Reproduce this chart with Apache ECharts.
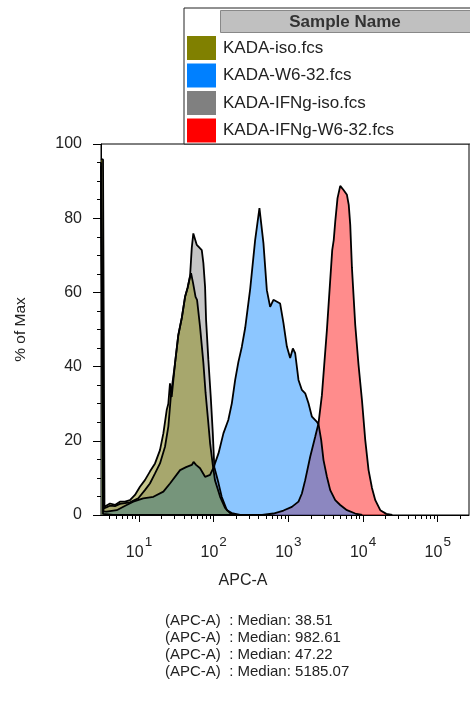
<!DOCTYPE html>
<html><head><meta charset="utf-8">
<script src="https://cdn.jsdelivr.net/npm/echarts@6/dist/echarts.min.js"></script>
<style>html,body{margin:0;padding:0;background:#fff}#c{width:470px;height:702px}</style>
</head><body><div id="c"></div>
<script>
// ---- data ----
const sampleNames = ['KADA-iso.fcs', 'KADA-W6-32.fcs', 'KADA-IFNg-iso.fcs', 'KADA-IFNg-W6-32.fcs'];
const sampleColors = ['#808000', '#0080ff', '#808080', '#ff0000'];
const medianLabel = '(APC-A)  : Median: ';
const medians = ['38.51', '982.61', '47.22', '5185.07'];
const xAxisTitle = 'APC-A';
const yAxisTitle = '% of Max';
const majorTickExponents = [1, 2, 3, 4, 5];
const minorTickValues = [4, 5, 6, 7, 8, 9, 20, 30, 40, 50, 60, 70, 80, 90,
  200, 300, 400, 500, 600, 700, 800, 900, 2000, 3000, 4000, 5000, 6000, 7000, 8000, 9000,
  20000, 30000, 40000, 50000, 60000, 70000, 80000, 90000, 200000];
const xMin = 3.1, xMax = 262144;

// KADA-iso.fcs
const isoX = [3.1, 3.3, 3.45, 4.09, 4.77, 5.56, 6.49, 7.57, 8.84, 10.3, 12.0, 14.0, 16.4, 19.1, 21.2, 23.5, 24.7, 26.0, 27.4, 30.4, 33.6, 37.4, 41.4, 44.7, 48.3, 49.8, 53.0, 57.2, 59.9, 65.7, 72.8, 77.9, 84.1, 89.5, 97.3, 104, 122, 142, 166, 200];
const isoY = [96, 95.8, 2.2, 3.1, 2.7, 3.6, 3.6, 4.0, 5.4, 7.6, 9.4, 11.7, 13.9, 17.5, 22.0, 28.3, 30.0, 35.5, 31.8, 41.0, 48.5, 53.1, 58.8, 61.2, 64.2, 65.2, 62.5, 58.8, 58.0, 50.7, 41.0, 32.9, 25.6, 19.4, 13.5, 9.4, 4.9, 1.9, 0.5, 0];
// KADA-W6-32.fcs
const w632X = [3.1, 3.25, 3.35, 3.69, 5.03, 6.84, 8.39, 11.4, 15.6, 21.2, 26.0, 35.5, 42.7, 50.9, 53.8, 58.1, 65.7, 76.7, 89.5, 99.1, 116, 135, 157, 175, 194, 214, 238, 264, 308, 359, 410, 464, 515, 570, 631, 776, 860, 955, 1057, 1149, 1234, 1366, 1517, 1680, 1860, 2066, 2411, 2532, 2752, 2955, 3282, 3634, 4240, 4948, 6085, 7861, 9757];
const w632Y = [95, 94.5, 1.0, 0.9, 1.3, 2.7, 3.6, 4.5, 4.9, 6.3, 8.5, 12.1, 12.9, 13.5, 14.3, 13.5, 12.6, 10.3, 10.8, 12.7, 16.6, 22.0, 25.6, 30.1, 36.4, 41.2, 45.3, 50.4, 60.9, 74.1, 82.7, 73.2, 60.6, 56.1, 58.0, 57.0, 51.7, 45.4, 42.3, 44.9, 43.6, 36.4, 33.7, 32.8, 30.1, 26.5, 25.1, 24.5, 20.2, 14.8, 10.3, 6.7, 4.0, 2.7, 1.3, 0.4, 0];
// KADA-IFNg-iso.fcs
const ifngIsoX = [3.1, 3.28, 3.4, 4.09, 4.77, 5.56, 6.49, 7.57, 8.31, 9.79, 12.0, 14.0, 16.4, 19.1, 22.3, 24.7, 26.9, 30.4, 33.6, 37.4, 41.4, 44.7, 48.3, 50.9, 53.4, 59.4, 69.3, 72.8, 76.7, 79.1, 84.9, 91.4, 97.3, 102, 116, 128, 150, 175, 226];
const ifngIsoY = [94, 93.5, 1.8, 2.5, 2.4, 3.0, 3.2, 3.4, 3.8, 4.5, 6.7, 8.5, 11.2, 13.9, 18.4, 23.8, 32.8, 40.9, 48.5, 53.1, 58.8, 61.2, 64.5, 72.0, 75.9, 72.8, 71.4, 67.9, 61.5, 52.6, 41.8, 31.8, 22.1, 12.9, 8.6, 4.9, 1.3, 0.5, 0];
// KADA-IFNg-W6-32.fcs
const ifngW632X = [3.1, 3.2, 3.3, 4.5, 445, 631, 860, 1114, 1366, 1517, 1680, 1960, 2287, 2532, 2812, 3019, 3282, 3634, 3865, 4049, 4240, 4552, 4948, 5056, 5479, 6085, 6433, 6738, 7100, 7861, 8704, 9667, 10703, 11851, 13162, 14579, 17007, 20463, 24633];
const ifngW632Y = [90, 89.5, 0.3, 0, 0, 0.4, 1.2, 2.2, 3.6, 5.8, 9.4, 15.7, 21.1, 24.7, 32.3, 40.4, 49.9, 63.3, 71.4, 74.1, 79.0, 85.4, 88.7, 89.2, 87.6, 86.3, 83.6, 78.2, 66.6, 51.2, 40.4, 31.0, 20.2, 12.1, 7.3, 4.0, 1.3, 0.3, 0];

// ---- build ----
const FONT = 'Liberation Sans, Arial, sans-serif';
const seriesXs = [isoX, w632X, ifngIsoX, ifngW632X];
const seriesYs = [isoY, w632Y, ifngIsoY, ifngW632Y];
const drawOrder = [3, 2, 1, 0]; // bottom -> top

const series = drawOrder.map(i => ({
  type: 'line',
  name: sampleNames[i],
  xAxisIndex: 0,
  data: seriesXs[i].map((v, k) => [Math.log10(v), seriesYs[i][k]]),
  showSymbol: false,
  symbol: 'none',
  smooth: false,
  lineStyle: { color: '#000', width: 1.8 },
  areaStyle: { color: sampleColors[i], opacity: 0.45, origin: 'start' },
  emphasis: { disabled: true },
  silent: true
}));

const legendX = 184, legendY = 8, rowH = 27.5;
const graphic = [
  { type: 'rect', z: 100, shape: { x: legendX, y: legendY, width: 300, height: 136 },
    style: { fill: '#fff', stroke: '#222', lineWidth: 1 } },
  { type: 'rect', z: 101, shape: { x: 220.5, y: 10.5, width: 260, height: 22 },
    style: { fill: '#c0c0c0', stroke: '#888', lineWidth: 1 } },
  { type: 'text', z: 102, x: 345, y: 22,
    style: { text: 'Sample Name', font: 'bold 17px ' + FONT, fill: '#333', align: 'center', verticalAlign: 'middle' } }
];
sampleNames.forEach((n, i) => {
  graphic.push({ type: 'rect', z: 101, shape: { x: 187, y: 36 + i * rowH, width: 29, height: 24 },
    style: { fill: sampleColors[i] } });
  graphic.push({ type: 'text', z: 102, x: 223, y: 48 + i * rowH,
    style: { text: n, font: '17px ' + FONT, fill: '#222', align: 'left', verticalAlign: 'middle' } });
});
medians.forEach((m, i) => {
  graphic.push({ type: 'text', z: 102, x: 165, y: 620.5 + i * 17,
    style: { text: medianLabel + m, font: '15px ' + FONT, fill: '#222', align: 'left', verticalAlign: 'middle' } });
});
graphic.push({ type: 'text', z: 102, x: 243, y: 581,
  style: { text: xAxisTitle, font: '16px ' + FONT, fill: '#222', align: 'center', verticalAlign: 'middle' } });

const xRange = { min: Math.log10(xMin), max: Math.log10(xMax) };

const option = {
  animation: false,
  backgroundColor: '#fff',
  textStyle: { fontFamily: FONT },
  grid: { left: 101, right: 1, top: 144, bottom: 187, show: true, borderColor: '#000', borderWidth: 1,
          backgroundColor: 'transparent', containLabel: false, outerBoundsMode: 'none' },
  xAxis: [
    { type: 'value', gridIndex: 0, position: 'bottom', min: xRange.min, max: xRange.max,
      splitLine: { show: false },
      axisLine: { show: true, onZero: false, lineStyle: { color: '#000', width: 1 } },
      axisTick: { show: true, length: 7, customValues: majorTickExponents, lineStyle: { color: '#000' } },
      axisLabel: { show: true, customValues: majorTickExponents, margin: 20, color: '#222',
        formatter: v => '{b|10}{s|' + v + '}',
        rich: {
          b: { fontSize: 16, lineHeight: 26, verticalAlign: 'bottom', fontFamily: FONT, color: '#222' },
          s: { fontSize: 13.5, verticalAlign: 'top', padding: [0, 0, 0, 1], fontFamily: FONT, color: '#222' }
        } }
    },
    { type: 'value', gridIndex: 0, position: 'bottom', min: xRange.min, max: xRange.max,
      splitLine: { show: false },
      axisLine: { show: false, onZero: false },
      axisTick: { show: true, length: 4, customValues: minorTickValues.map(v => Math.log10(v)), lineStyle: { color: '#000' } },
      axisLabel: { show: false }
    }
  ],
  yAxis: {
    type: 'value', min: 0, max: 100, interval: 20,
    name: yAxisTitle, nameLocation: 'middle', nameRotate: 90, nameGap: 72, nameMoveOverlap: false,
    nameTextStyle: { fontSize: 15.5, color: '#222', fontFamily: FONT },
    splitLine: { show: false },
    axisLine: { show: true, lineStyle: { color: '#000', width: 1 } },
    axisTick: { show: true, length: 8, lineStyle: { color: '#000' } },
    minorTick: { show: true, splitNumber: 4, length: 4, lineStyle: { color: '#000' } },
    minorSplitLine: { show: false },
    axisLabel: { fontSize: 16, color: '#222', margin: 19, fontFamily: FONT }
  },
  series: series,
  graphic: graphic
};

const chart = echarts.init(document.getElementById('c'), null, { renderer: 'canvas' });
chart.setOption(option);
</script>
</body></html>
